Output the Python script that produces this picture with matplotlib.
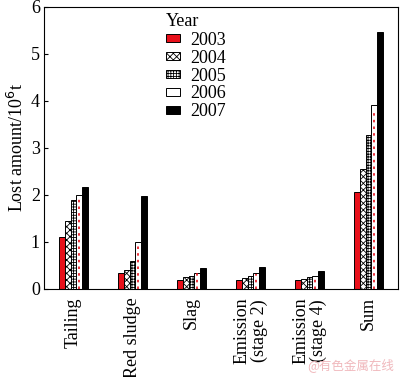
import matplotlib.pyplot as plt
import numpy as np

plt.rcParams['font.family'] = ['Liberation Serif', 'DejaVu Serif']
plt.rcParams['hatch.linewidth'] = 0.6

categories = ["Tailing", "Red sludge", "Slag", "Emission\n(stage 2)", "Emission\n(stage 4)", "Sum"]
years = ["2003", "2004", "2005", "2006", "2007"]
lost_2003 = [1.10, 0.34, 0.19, 0.19, 0.19, 2.06]
lost_2004 = [1.44, 0.39, 0.25, 0.24, 0.20, 2.54]
lost_2005 = [1.88, 0.59, 0.28, 0.28, 0.25, 3.28]
lost_2006 = [1.99, 0.99, 0.34, 0.33, 0.28, 3.92]
lost_2007 = [2.16, 1.98, 0.45, 0.47, 0.37, 5.46]
series = [lost_2003, lost_2004, lost_2005, lost_2006, lost_2007]

styles = [
    dict(color='#e8101a', edgecolor='black', hatch=None),
    dict(color='white', edgecolor='black', hatch='xxxxx'),
    dict(color='white', edgecolor='black', hatch='++++++'),
    dict(color='white', edgecolor='black', hatch=None),
    dict(color='black', edgecolor='black', hatch=None),
]

fig = plt.figure(figsize=(4.0, 3.77), dpi=100)
ax = fig.add_axes([0.11, 0.234, 0.885, 0.748])

x = np.arange(len(categories))
w = 0.097
for i, (vals, st) in enumerate(zip(series, styles)):
    pos = x + (i - 2) * w
    ax.bar(pos, vals, width=w, label=years[i], linewidth=0.7, **st)
    if years[i] == "2006":
        ax.vlines(pos, 0, np.array(vals) * 0.97, colors='#e8101a',
                  linestyles=(0, (1.5, 2.5)), linewidth=1.2)

ax.set_xlim(-0.5, 5.5)
ax.set_ylim(0, 6)
ax.set_yticks(range(7))
ax.tick_params(axis='y', direction='in', length=3, labelsize=13, pad=3)
ax.tick_params(axis='x', length=0, labelsize=13, pad=6)
ax.set_xticks(x)
ax.set_xticklabels(categories, rotation=90, ha='center', va='top', linespacing=1.0)
ax.set_ylabel("Lost amount/10$^6$t", fontsize=13, labelpad=3)
for s in ax.spines.values():
    s.set_linewidth(0.8)

leg = ax.legend(title="Year", loc='upper left', bbox_to_anchor=(0.315, 1.015),
                frameon=False, fontsize=13, title_fontsize=13,
                handlelength=0.75, handleheight=0.3, handletextpad=0.55,
                labelspacing=0.05, borderaxespad=0.2)
leg._legend_box.align = "left"
leg._legend_box.sep = 1

fig.text(0.985, 0.012, "@有色金属在线", color='#f0b8bc', fontsize=9,
         ha='right', va='bottom', family=['Noto Sans CJK SC', 'DejaVu Sans'])

fig.savefig("out.png", dpi=100)
